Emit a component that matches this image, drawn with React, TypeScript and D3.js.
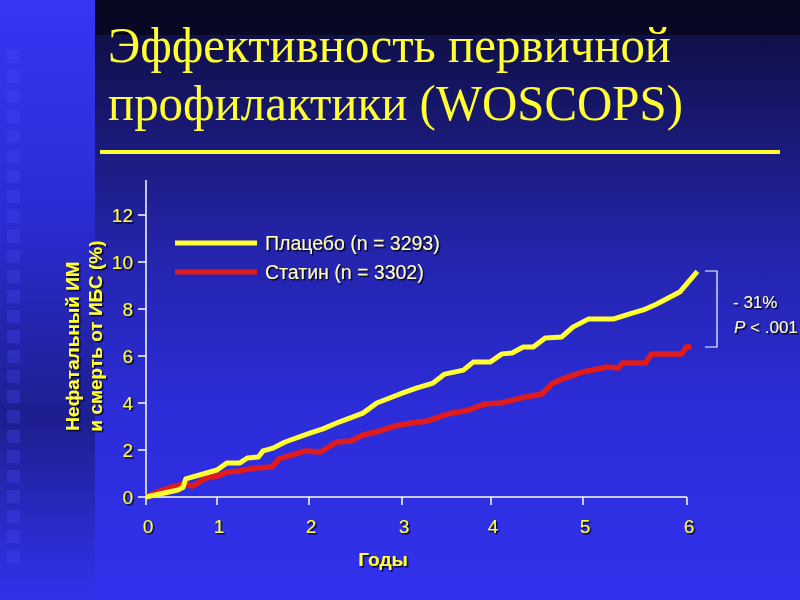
import React from "react";
import * as d3 from "d3";

const yearTicks = [0, 1, 2, 3, 4, 5, 6];
const valueTicks = [0, 2, 4, 6, 8, 10, 12];

const placeboT = [0, 0.45, 0.52, 0.56, 1.0, 1.11, 1.25, 1.33, 1.45, 1.5, 1.61, 1.74, 2.01, 2.15, 2.33, 2.58, 2.73, 3.01, 3.17, 3.35, 3.48, 3.69, 3.8, 3.99, 4.12, 4.23, 4.35, 4.46, 4.59, 4.77, 4.89, 5.05, 5.29, 5.45, 5.58, 5.71, 5.93, 6.1];
const placeboV = [0, 0.3, 0.4, 0.77, 1.15, 1.45, 1.45, 1.66, 1.7, 1.96, 2.08, 2.34, 2.72, 2.9, 3.2, 3.57, 4.0, 4.43, 4.64, 4.85, 5.23, 5.4, 5.74, 5.74, 6.09, 6.13, 6.38, 6.38, 6.77, 6.81, 7.23, 7.57, 7.57, 7.79, 7.96, 8.21, 8.72, 9.6];

const statinT = [0, 0.15, 0.37, 0.52, 0.66, 0.85, 1.0, 1.11, 1.23, 1.41, 1.6, 1.67, 1.82, 1.96, 2.12, 2.3, 2.45, 2.58, 2.76, 2.92, 3.11, 3.28, 3.51, 3.75, 3.93, 4.11, 4.32, 4.55, 4.66, 4.77, 5.0, 5.23, 5.34, 5.38, 5.6, 5.66, 5.95, 5.99, 6.04];
const statinV = [0, 0.21, 0.43, 0.55, 0.47, 0.81, 0.89, 1.06, 1.1, 1.23, 1.28, 1.62, 1.79, 1.96, 1.91, 2.34, 2.38, 2.64, 2.81, 3.02, 3.15, 3.23, 3.53, 3.7, 3.96, 4.0, 4.21, 4.38, 4.81, 5.02, 5.32, 5.53, 5.49, 5.7, 5.7, 6.09, 6.09, 6.38, 6.38];

const seriesNames = ["Плацебо (n = 3293)", "Статин (n = 3302)"];
const titleLines = ["Эффективность первичной", "профилактики (WOSCOPS)"];
const yLabelLines = ["Нефатальный ИМ", "и смерть от ИБС (%)"];
const xLabel = "Годы";

const YELLOW = "#ffff33";
const RED = "#e01b1b";
const PALE = "#ffffb8";

export default function App() {
  const x = d3.scaleLinear().domain(yearTicks).range([146, 217, 309, 402, 491, 583, 687]);
  const y = d3.scaleLinear().domain([0, 12]).range([497, 215]);
  const line = d3
    .line<[number, number]>()
    .x((d) => x(d[0]))
    .y((d) => y(d[1]));
  const placebo = placeboT.map((t, i) => [t, placeboV[i]] as [number, number]);
  const statin = statinT.map((t, i) => [t, statinV[i]] as [number, number]);

  const squares = d3.range(50, 560, 20);
  const sans = "'Liberation Sans', Arial, sans-serif";

  return (
    <svg width={800} height={600} style={{ position: "absolute", left: 0, top: 0 }}>
      <defs>
        <linearGradient id="main" x1="0" y1="0" x2="0" y2="1">
          <stop offset="0" stopColor="#0c0c3a" />
          <stop offset="0.2" stopColor="#181870" />
          <stop offset="0.42" stopColor="#2424ac" />
          <stop offset="0.68" stopColor="#2c2cd8" />
          <stop offset="1" stopColor="#3232ee" />
        </linearGradient>
        <linearGradient id="left" x1="0" y1="0" x2="0" y2="1">
          <stop offset="0" stopColor="#3636f4" />
          <stop offset="0.35" stopColor="#2c2cd4" />
          <stop offset="0.7" stopColor="#1e1e90" />
          <stop offset="1" stopColor="#3232ee" />
        </linearGradient>
        <filter id="sh" x="-20%" y="-20%" width="140%" height="140%">
          <feDropShadow dx="1.5" dy="1.5" stdDeviation="0.4" floodColor="#00001a" floodOpacity="0.9" />
        </filter>
      </defs>
      <rect x={0} y={0} width={800} height={600} fill="url(#main)" />
      <rect x={95} y={0} width={705} height={35} fill="#06061c" opacity={0.8} />
      <rect x={0} y={0} width={95} height={600} fill="url(#left)" />
      {squares.map((sy) => (
        <rect key={sy} x={7} y={sy} width={13} height={13} fill="#4a4aff" opacity={0.28} />
      ))}

      {/* Title */}
      <g fill={YELLOW} fontFamily="'Liberation Serif', 'Times New Roman', serif" fontSize={50}>
        <text x={108} y={62} textLength={563} lengthAdjust="spacingAndGlyphs">{titleLines[0]}</text>
        <text x={108} y={120} textLength={575} lengthAdjust="spacingAndGlyphs">{titleLines[1]}</text>
      </g>
      <rect x={100} y={150} width={680} height={4} fill={YELLOW} />

      {/* Axes */}
      <g stroke="#ffffff" strokeWidth={1.5}>
        <line x1={146} x2={146} y1={180} y2={497} />
        <line x1={146} x2={687} y1={497} y2={497} />
        {valueTicks.map((v) => (
          <line key={"yt" + v} x1={138} x2={146} y1={y(v)} y2={y(v)} />
        ))}
        {yearTicks.map((t) => (
          <line key={"xt" + t} x1={x(t)} x2={x(t)} y1={497} y2={505} />
        ))}
      </g>
      <g fill={YELLOW} fontFamily={sans} fontSize={19} filter="url(#sh)">
        {valueTicks.map((v) => (
          <text key={"yl" + v} x={133} y={y(v)} dy="0.36em" textAnchor="end">{v}</text>
        ))}
        {yearTicks.map((t) => (
          <text key={"xl" + t} x={x(t) + 2} y={533} textAnchor="middle">{t}</text>
        ))}
        <text x={383} y={566} textAnchor="middle" fontWeight="bold">{xLabel}</text>
        <text transform="translate(79,346) rotate(-90)" textAnchor="middle" fontWeight="bold" fontSize={19}>{yLabelLines[0]}</text>
        <text transform="translate(102,336) rotate(-90)" textAnchor="middle" fontWeight="bold" fontSize={19}>{yLabelLines[1]}</text>
      </g>

      {/* Lines */}
      <path d={line(statin) ?? ""} fill="none" stroke={RED} strokeWidth={5.5} strokeLinejoin="round" />
      <path d={line(placebo) ?? ""} fill="none" stroke={YELLOW} strokeWidth={5} strokeLinejoin="round" />

      {/* Legend */}
      <line x1={175} x2={257} y1={243} y2={243} stroke={YELLOW} strokeWidth={5} />
      <line x1={175} x2={257} y1={272} y2={272} stroke={RED} strokeWidth={5} />
      <g fill={PALE} fontFamily={sans} fontSize={19.5} filter="url(#sh)">
        <text x={265} y={250}>{seriesNames[0]}</text>
        <text x={265} y={279}>{seriesNames[1]}</text>
      </g>

      {/* Annotation */}
      <g stroke="#ffffff" strokeWidth={1.2} fill="none">
        <path d="M705,271 H717 V347 H705" />
      </g>
      <g fill={PALE} fontFamily={sans} fontSize={17} filter="url(#sh)">
        <text x={733} y={308}>- 31%</text>
        <text x={734} y={333}>
          <tspan fontStyle="italic">P</tspan> &lt; .001
        </text>
      </g>
    </svg>
  );
}
